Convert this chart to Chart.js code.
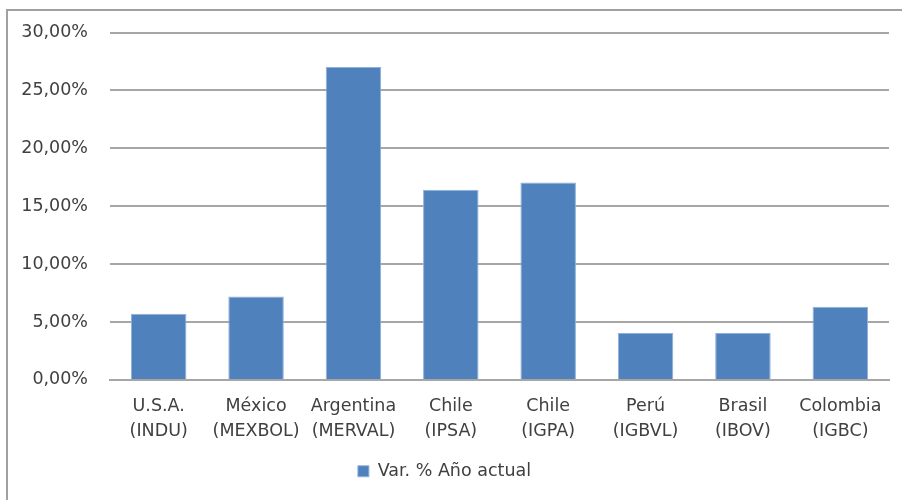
<!DOCTYPE html>
<html>
<head>
<meta charset="utf-8">
<script src="https://cdn.jsdelivr.net/npm/chart.js@4.4.1/dist/chart.umd.min.js"></script>
<style>
  html, body { margin: 0; padding: 0; background: #fff; }
  #wrap { position: relative; width: 902px; height: 500px; }
</style>
</head>
<body>
<div id="wrap"><canvas id="chart"></canvas></div>
<script>
// data
const categories = [
  ['U.S.A.', '(INDU)'],
  ['México', '(MEXBOL)'],
  ['Argentina', '(MERVAL)'],
  ['Chile', '(IPSA)'],
  ['Chile', '(IGPA)'],
  ['Perú', '(IGBVL)'],
  ['Brasil', '(IBOV)'],
  ['Colombia', '(IGBC)'],
];
const seriesName = 'Var. % Año actual';
const varAnual = [5.71, 7.21, 27.03, 16.43, 17.04, 4.06, 4.06, 6.31];
const yTicks = [0, 5, 10, 15, 20, 25, 30];

const FONT = '"DejaVu Sans", Lato, sans-serif';
const FS = 17.5;
const TEXT = '#404040';
const GRID = '#a6a6a6';
const BLUE = '#4f81bd';

// outer frame like the Excel chart border (left/top visible, right/bottom cut)
const framePlugin = {
  id: 'frame',
  beforeDraw(chart) {
    const { ctx } = chart;
    ctx.save();
    ctx.strokeStyle = '#a0a0a0';
    ctx.lineWidth = 2;
    ctx.strokeRect(7, 10, 1000, 1000);
    ctx.restore();
  },
};

new Chart(document.getElementById('chart'), {
  type: 'bar',
  data: {
    labels: categories,
    datasets: [{
      label: seriesName,
      data: varAnual,
      backgroundColor: BLUE,
      borderColor: '#8fb0dc',
      borderWidth: 1,
      barPercentage: 0.57,
      categoryPercentage: 1,
    }],
  },
  options: {
    responsive: true,
    maintainAspectRatio: false,
    animation: false,
    layout: { padding: { left: 0, right: 13, top: 22, bottom: 10 } },
    plugins: {
      legend: {
        position: 'bottom',
        labels: {
          color: TEXT,
          font: { family: FONT, size: FS },
          boxWidth: 11,
          boxHeight: 11,
          padding: 4.5,
        },
      },
      tooltip: { enabled: false },
    },
    scales: {
      x: {
        grid: { display: false, drawTicks: false },
        border: { color: GRID, width: 2 },
        ticks: {
          color: TEXT,
          font: { family: FONT, size: FS, lineHeight: 1.43 },
          padding: 14,
          maxRotation: 0,
          autoSkip: false,
        },
      },
      y: {
        min: 0,
        max: 30,
        afterBuildTicks: axis => { axis.ticks = yTicks.map(v => ({ value: v })); },
        afterFit: axis => { axis.width = 110; },
        grid: { color: GRID, lineWidth: 2, drawTicks: false },
        border: { display: false },
        ticks: {
          color: TEXT,
          font: { family: FONT, size: FS },
          padding: 22,
          callback: v => v.toFixed(2).replace('.', ',') + '%',
        },
      },
    },
  },
  plugins: [framePlugin],
});
</script>
</body>
</html>
